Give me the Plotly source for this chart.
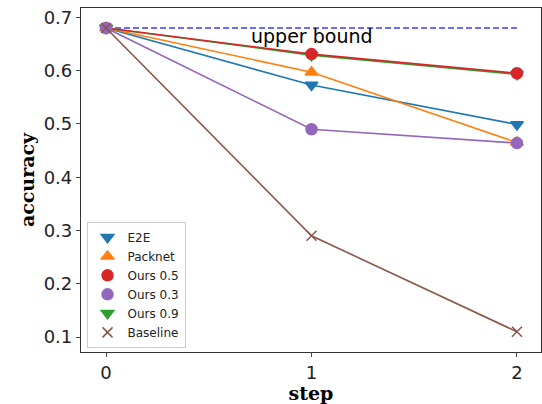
import plotly.graph_objects as go

steps = [0, 1, 2]
e2e = [0.68, 0.573, 0.499]
packnet = [0.68, 0.597, 0.465]
ours05 = [0.68, 0.631, 0.595]
ours03 = [0.68, 0.490, 0.464]
ours09 = [0.68, 0.629, 0.593]
baseline = [0.68, 0.290, 0.110]
upper_bound = 0.68
yticks = [0.1, 0.2, 0.3, 0.4, 0.5, 0.6, 0.7]

series = [
    ("E2E", e2e, "#1f77b4", "triangle-down"),
    ("Packnet", packnet, "#ff7f0e", "triangle-up"),
    ("Ours 0.5", ours05, "#d62728", "circle"),
    ("Ours 0.3", ours03, "#9467bd", "circle"),
    ("Ours 0.9", ours09, "#2ca02c", "triangle-down"),
    ("Baseline", baseline, "#8c564b", "x-thin"),
]

fig = go.Figure()
fig.add_trace(go.Scatter(x=[steps[0], steps[-1]], y=[upper_bound, upper_bound], mode="lines",
                         line=dict(color="#3a3aff", dash="6px,3px", width=1.5), showlegend=False))
draw_order = [0, 1, 4, 2, 3, 5]
for i in draw_order:
    name, vals, col, sym = series[i]
    fig.add_trace(go.Scatter(x=steps, y=vals, mode="lines+markers", name=name,
                             line=dict(color=col, width=1.6),
                             marker=dict(symbol=sym, size=11 if sym != "x-thin" else 10, color=col,
                                         line=dict(color=col, width=1.5)),
                             showlegend=False))
for name, vals, col, sym in series:
    fig.add_trace(go.Scatter(x=[None], y=[None], mode="markers", name=name,
                             marker=dict(symbol=sym, size=11 if sym != "x-thin" else 10, color=col,
                                         line=dict(color=col, width=1.5))))

fig.add_annotation(x=1, y=0.665, text="upper bound", showarrow=False,
                   font=dict(family="DejaVu Sans", size=19, color="black"))

fig.update_layout(
    width=542, height=404,
    margin=dict(l=81, r=1, t=8, b=52),
    paper_bgcolor="white", plot_bgcolor="white",
    font=dict(family="DejaVu Sans", color="#222"),
    legend=dict(x=0.012, y=0.012, xanchor="left", yanchor="bottom",
                bordercolor="#cccccc", borderwidth=1, bgcolor="rgba(255,255,255,0.8)",
                font=dict(size=12, color="#222"), tracegroupgap=0),
)
fig.update_xaxes(range=[-0.122, 2.117], tickvals=steps, ticks="outside", ticklen=4,
                 showgrid=False, zeroline=False, showline=True, linecolor="#333", linewidth=1.2,
                 mirror=True, tickfont=dict(size=18),
                 title=dict(text="<b>step</b>", font=dict(family="DejaVu Serif", size=19, color="black"),
                            standoff=5))
fig.update_yaxes(range=[0.072, 0.7175], tickvals=yticks, ticktext=[str(v) for v in yticks],
                 ticks="outside", ticklen=4,
                 showgrid=False, zeroline=False, showline=True, linecolor="#333", linewidth=1.2,
                 mirror=True, tickfont=dict(size=18),
                 title=dict(text="<b>accuracy</b>", font=dict(family="DejaVu Serif", size=19, color="black"),
                            standoff=4))
fig.write_html("out.html")
